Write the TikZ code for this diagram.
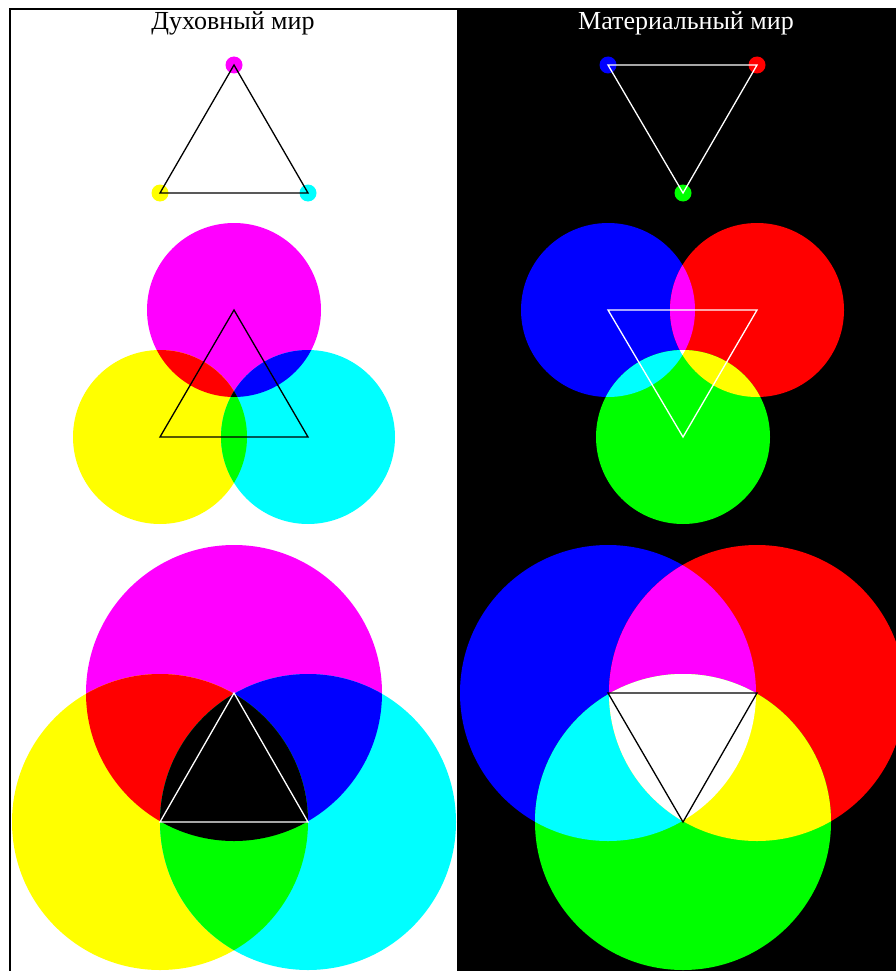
\documentclass[tikz,border=0pt]{standalone}
\usepackage{fontspec}
\setmainfont{Liberation Serif}
\usepackage{xcolor}
\usepackage{tikz}
\usetikzlibrary{positioning}

\definecolor{pmag}{RGB}{255,0,255}
\definecolor{pyel}{RGB}{255,255,0}
\definecolor{pcya}{RGB}{0,255,255}
\definecolor{pred}{RGB}{255,0,0}
\definecolor{pgrn}{RGB}{0,255,0}
\definecolor{pblu}{RGB}{0,0,255}

\begin{document}
\begin{tikzpicture}[
            x=1pt, y=-1pt,
            title/.style={font=\fontsize{26}{30}\selectfont, anchor=base, inner sep=0pt},
            dot/.style={circle, fill=#1, minimum size=17pt, inner sep=0pt},
            edge/.style={line width=1.3pt, draw=#1, line join=miter},
            midcirc/.style={radius=87pt},
            bigcirc/.style={radius=148pt}
        ]
            \useasboundingbox (0,0) rectangle (896,971);
            \fill[black] (457,8) rectangle (896,971);
            \draw[line width=1.6pt] (10,971) |- (457,9);

            \node[title] (spTitle) at (233,30) {Духовный мир};
            \node[title, text=white] (mtTitle) at (686,30) {Материальный мир};

            % top row: dots and triangles
            \node[dot=pmag] (spM1) at (234,65) {};
            \node[dot=pyel] (spY1) at (160,193) {};
            \node[dot=pcya] (spC1) at (308,193) {};
            \node[dot=pblu] (mtB1) at (608,65) {};
            \node[dot=pred] (mtR1) at (757,65) {};
            \node[dot=pgrn] (mtG1) at (683,193) {};
            \draw[edge=black] (spM1.center) -- (spY1.center) -- (spC1.center) -- cycle;
            \draw[edge=white] (mtB1.center) -- (mtR1.center) -- (mtG1.center) -- cycle;

            % middle row
            \coordinate (spM2) at (234,310);
            \coordinate (spY2) at (160,437);
            \coordinate (spC2) at (308,437);
            \fill[pmag] (spM2) circle[midcirc];
            \fill[pyel] (spY2) circle[midcirc];
            \fill[pcya] (spC2) circle[midcirc];
            \begin{scope}
                \clip (spM2) circle[midcirc];
                \fill[pred] (spY2) circle[midcirc];
                \fill[pblu] (spC2) circle[midcirc];
                \clip (spY2) circle[midcirc];
                \fill[black] (spC2) circle[midcirc];
            \end{scope}
            \begin{scope}
                \clip (spY2) circle[midcirc];
                \fill[pgrn] (spC2) circle[midcirc];
                \clip (spM2) circle[midcirc];
                \fill[black] (spC2) circle[midcirc];
            \end{scope}
            \draw[edge=black] (spM2) -- (spY2) -- (spC2) -- cycle;

            \coordinate (mtB2) at (608,310);
            \coordinate (mtR2) at (757,310);
            \coordinate (mtG2) at (683,437);
            \fill[pblu] (mtB2) circle[midcirc];
            \fill[pred] (mtR2) circle[midcirc];
            \fill[pgrn] (mtG2) circle[midcirc];
            \begin{scope}
                \clip (mtB2) circle[midcirc];
                \fill[pmag] (mtR2) circle[midcirc];
                \fill[pcya] (mtG2) circle[midcirc];
            \end{scope}
            \begin{scope}
                \clip (mtR2) circle[midcirc];
                \fill[pyel] (mtG2) circle[midcirc];
                \clip (mtB2) circle[midcirc];
                \fill[white] (mtG2) circle[midcirc];
            \end{scope}
            \draw[edge=white] (mtB2) -- (mtR2) -- (mtG2) -- cycle;

            % bottom row
            \coordinate (spM3) at (234,693);
            \coordinate (spY3) at (160,822);
            \coordinate (spC3) at (308,822);
            \fill[pmag] (spM3) circle[bigcirc];
            \fill[pyel] (spY3) circle[bigcirc];
            \fill[pcya] (spC3) circle[bigcirc];
            \begin{scope}
                \clip (spM3) circle[bigcirc];
                \fill[pred] (spY3) circle[bigcirc];
                \fill[pblu] (spC3) circle[bigcirc];
            \end{scope}
            \begin{scope}
                \clip (spY3) circle[bigcirc];
                \fill[pgrn] (spC3) circle[bigcirc];
                \clip (spM3) circle[bigcirc];
                \fill[black] (spC3) circle[bigcirc];
            \end{scope}
            \draw[edge=white] (spM3) -- (spY3) -- (spC3) -- cycle;

            \coordinate (mtB3) at (608,693);
            \coordinate (mtR3) at (757,693);
            \coordinate (mtG3) at (683,822);
            \fill[pblu] (mtB3) circle[bigcirc];
            \fill[pred] (mtR3) circle[bigcirc];
            \fill[pgrn] (mtG3) circle[bigcirc];
            \begin{scope}
                \clip (mtB3) circle[bigcirc];
                \fill[pmag] (mtR3) circle[bigcirc];
                \fill[pcya] (mtG3) circle[bigcirc];
            \end{scope}
            \begin{scope}
                \clip (mtR3) circle[bigcirc];
                \fill[pyel] (mtG3) circle[bigcirc];
                \clip (mtB3) circle[bigcirc];
                \fill[white] (mtG3) circle[bigcirc];
            \end{scope}
            \draw[edge=black] (mtB3) -- (mtR3) -- (mtG3) -- cycle;
        \end{tikzpicture}
\end{document}
